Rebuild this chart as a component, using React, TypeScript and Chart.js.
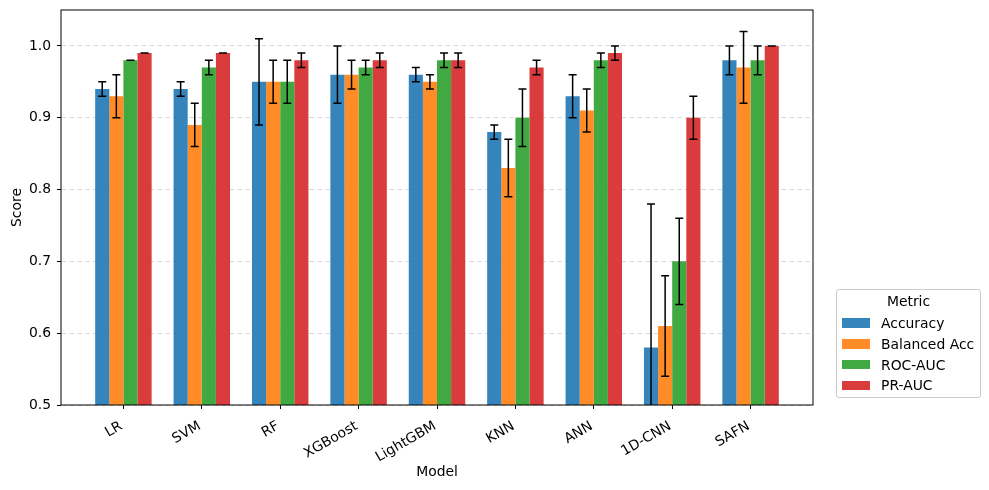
import React, { useEffect, useRef } from "react";
import { Chart, registerables } from "chart.js";

Chart.register(...registerables);

const models = ["LR", "SVM", "RF", "XGBoost", "LightGBM", "KNN", "ANN", "1D-CNN", "SAFN"];
const metrics = ["Accuracy", "Balanced Acc", "ROC-AUC", "PR-AUC"];
const colors = [
  "rgba(31,119,180,0.9)",
  "rgba(255,127,14,0.9)",
  "rgba(44,160,44,0.9)",
  "rgba(214,39,40,0.9)",
];

const accuracy = [0.94, 0.94, 0.95, 0.96, 0.96, 0.88, 0.93, 0.58, 0.98];
const accuracyErr = [0.01, 0.01, 0.06, 0.04, 0.01, 0.01, 0.03, 0.2, 0.02];
const balancedAcc = [0.93, 0.89, 0.95, 0.96, 0.95, 0.83, 0.91, 0.61, 0.97];
const balancedAccErr = [0.03, 0.03, 0.03, 0.02, 0.01, 0.04, 0.03, 0.07, 0.05];
const rocAuc = [0.98, 0.97, 0.95, 0.97, 0.98, 0.9, 0.98, 0.7, 0.98];
const rocAucErr = [0.0, 0.01, 0.03, 0.01, 0.01, 0.04, 0.01, 0.06, 0.02];
const prAuc = [0.99, 0.99, 0.98, 0.98, 0.98, 0.97, 0.99, 0.9, 1.0];
const prAucErr = [0.0, 0.0, 0.01, 0.01, 0.01, 0.01, 0.01, 0.03, 0.0];

const yTicks = [0.5, 0.6, 0.7, 0.8, 0.9, 1.0];

const seriesValues = [accuracy, balancedAcc, rocAuc, prAuc];
const seriesErrors = [accuracyErr, balancedAccErr, rocAucErr, prAucErr];

const FONT = "'DejaVu Sans', sans-serif";

const errorBarPlugin = {
  id: "errorBars",
  afterDatasetsDraw(chart: any) {
    const ctx = chart.ctx;
    const yScale = chart.scales.y;
    const area = chart.chartArea;
    ctx.save();
    ctx.beginPath();
    ctx.rect(area.left, area.top, area.right - area.left, area.bottom - area.top);
    ctx.clip();
    ctx.strokeStyle = "#000";
    ctx.lineWidth = 1.5;
    ctx.lineCap = "butt";
    chart.data.datasets.forEach((ds: any, i: number) => {
      const meta = chart.getDatasetMeta(i);
      const errs = seriesErrors[i];
      meta.data.forEach((bar: any, j: number) => {
        const v = ds.data[j];
        const e = errs[j];
        const lo = yScale.getPixelForValue(v - e);
        const hi = yScale.getPixelForValue(v + e);
        const x = bar.x;
        ctx.beginPath();
        ctx.moveTo(x, lo);
        ctx.lineTo(x, hi);
        ctx.moveTo(x - 4, lo);
        ctx.lineTo(x + 4, lo);
        ctx.moveTo(x - 4, hi);
        ctx.lineTo(x + 4, hi);
        ctx.stroke();
      });
    });
    ctx.restore();
  },
};

const framePlugin = {
  id: "frame",
  afterDraw(chart: any) {
    const ctx = chart.ctx;
    const a = chart.chartArea;
    ctx.save();
    ctx.strokeStyle = "#000";
    ctx.lineWidth = 1;
    ctx.strokeRect(a.left, a.top, a.right - a.left, a.bottom - a.top);
    ctx.restore();
  },
};

export default function App() {
  const canvasRef = useRef<HTMLCanvasElement | null>(null);

  useEffect(() => {
    document.body.style.margin = "0";
    const canvas = canvasRef.current;
    if (!canvas) return;
    const chart = new Chart(canvas, {
      type: "bar",
      data: {
        labels: models,
        datasets: metrics.map((m, i) => ({
          label: m,
          data: seriesValues[i],
          backgroundColor: colors[i],
          borderWidth: 0,
          categoryPercentage: 0.72,
          barPercentage: 1.0,
        })),
      },
      options: {
        animation: false,
        responsive: true,
        maintainAspectRatio: false,
        layout: { padding: { left: 0, right: 176, top: 10, bottom: 0 } },
        plugins: {
          legend: { display: false },
          tooltip: { enabled: false },
        },
        scales: {
          x: {
            type: "category",
            offset: false,
            afterBuildTicks: (scale: any) => {
              scale._startValue = -0.796;
              scale._valueRange = 8 + 2 * 0.796;
            },
            afterFit: (scale: any) => {
              scale.height = 85;
              scale.paddingLeft = 0;
              scale.paddingRight = 0;
            },
            grid: {
              offset: false,
              drawOnChartArea: false,
              drawTicks: true,
              tickLength: 4,
              tickColor: "#000",
              color: "#000",
            },
            border: { display: false },
            ticks: {
              autoSkip: false,
              maxRotation: 30,
              minRotation: 30,
              padding: 9,
              labelOffset: -2,
              color: "#000",
              font: { family: FONT, size: 13.9 },
            },
            title: {
              display: true,
              text: "Model",
              color: "#000",
              font: { family: FONT, size: 13.9 },
              padding: { top: 4, bottom: 9 },
            },
          },
          y: {
            type: "linear",
            min: 0.5,
            max: 1.05,
            afterFit: (scale: any) => {
              scale.width = 61;
              scale.paddingTop = 0;
              scale.paddingBottom = 0;
            },
            afterBuildTicks: (scale: any) => {
              scale.ticks = yTicks.map((v) => ({ value: v }));
            },
            grid: {
              color: "rgba(176,176,176,0.45)",
              lineWidth: 1,
              drawTicks: true,
              tickLength: 4,
              tickColor: "#000",
              tickBorderDash: [],
            },
            border: { display: false, dash: [5, 3] },
            ticks: {
              includeBounds: false,
              padding: 6,
              color: "#000",
              font: { family: FONT, size: 13.9 },
              callback: (v: any) => Number(v).toFixed(1),
            },
            title: {
              display: true,
              text: "Score",
              color: "#000",
              font: { family: FONT, size: 13.9 },
              padding: { top: 9, bottom: 4 },
            },
          },
        },
      },
      plugins: [errorBarPlugin, framePlugin],
    } as any);
    return () => chart.destroy();
  }, []);

  return (
    <div style={{ position: "relative", width: 989, height: 490, background: "#fff" }}>
      <canvas ref={canvasRef} />
      <div
        style={{
          position: "absolute",
          left: 836,
          top: 289,
          width: 145,
          height: 109,
          border: "1px solid #cccccc",
          borderRadius: 3,
          background: "rgba(255,255,255,0.8)",
          fontFamily: FONT,
          fontSize: 13.9,
          color: "#000",
          boxSizing: "border-box",
        }}
      >
        <div style={{ position: "absolute", top: 3, left: 0, width: "100%", textAlign: "center", lineHeight: "16px" }}>
          Metric
        </div>
        {metrics.map((m, i) => (
          <div key={m} style={{ position: "absolute", left: 5, top: 24 + i * 20.8, height: 18, display: "flex", alignItems: "center" }}>
            <span style={{ display: "inline-block", width: 28, height: 9.5, background: colors[i], marginRight: 11 }} />
            <span style={{ lineHeight: "18px", whiteSpace: "nowrap" }}>{m}</span>
          </div>
        ))}
      </div>
    </div>
  );
}
